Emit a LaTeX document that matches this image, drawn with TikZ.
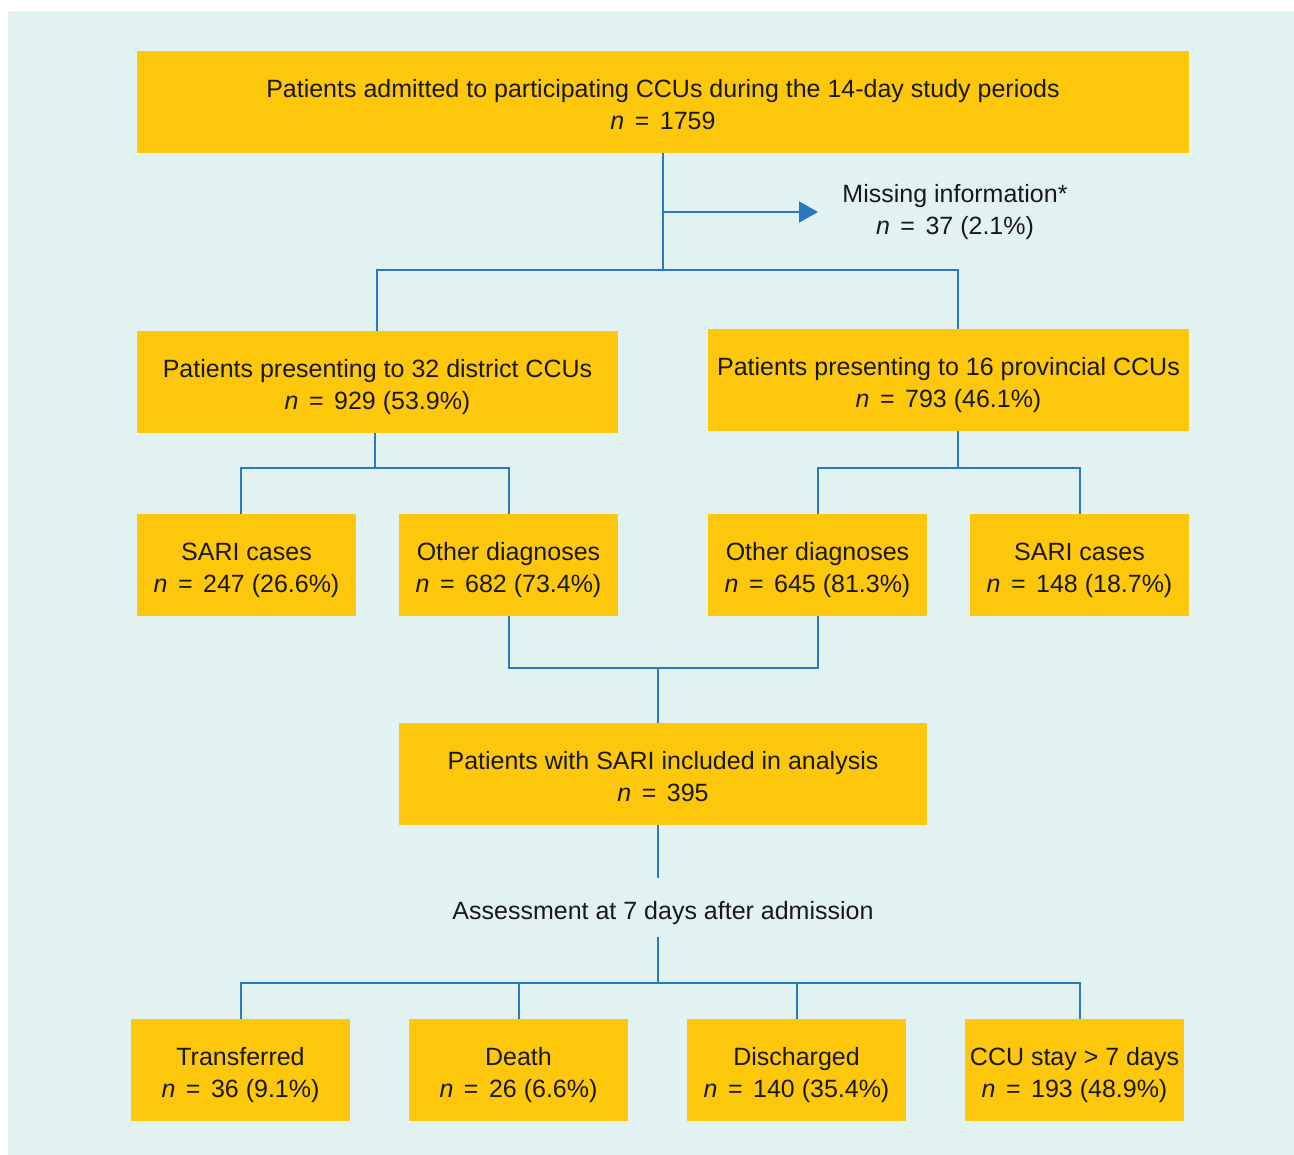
\documentclass[tikz,border=0pt]{standalone}
\usepackage{fontspec}
\setmainfont{Liberation Sans}
\usetikzlibrary{arrows.meta}
\definecolor{bgteal}{RGB}{226,242,241}
\definecolor{boxyellow}{RGB}{253,199,12}
\definecolor{linkblue}{RGB}{41,121,191}
\definecolor{txt}{RGB}{25,25,25}
\newcommand{\ncount}{\textit{n}\hspace{0.42em}=\hspace{0.42em}}
\newcommand{\boxtext}[2]{\raisebox{-5.5pt}[\height][\depth]{\begin{tabular}{@{}c@{}}#1\\#2\end{tabular}}}
\begin{document}
\begin{tikzpicture}[x=1pt,y=-1pt,
	box/.style={fill=boxyellow,text=txt,inner sep=0pt,minimum width=219pt,minimum height=102pt,
		font=\fontsize{25}{32}\selectfont},
	note/.style={text=txt,inner sep=0pt,text depth=0pt,align=center,font=\fontsize{25}{32}\selectfont},
	link/.style={draw=linkblue,line width=2pt}]
	\useasboundingbox (0,0) rectangle (1294,1155);
	\fill[bgteal] (8,11) rectangle (1294,1155);

	% boxes
	\node[box,minimum width=1052pt] (admitted) at (663,102) {\boxtext{Patients admitted to participating CCUs during the 14-day study periods}{\ncount 1759}};
	\node[note] (missing) at (955,209) {Missing information*\\\ncount 37 (2.1\%)};
	\node[box,minimum width=481pt] (district) at (377.5,382) {\boxtext{Patients presenting to 32 district CCUs}{\ncount 929 (53.9\%)}};
	\node[box,minimum width=481pt] (provincial) at (948.5,380) {\boxtext{Patients presenting to 16 provincial CCUs}{\ncount 793 (46.1\%)}};
	\node[box] (sarileft) at (246.5,565) {\boxtext{SARI cases}{\ncount 247 (26.6\%)}};
	\node[box] (otherleft) at (508.5,565) {\boxtext{Other diagnoses}{\ncount 682 (73.4\%)}};
	\node[box] (otherright) at (817.5,565) {\boxtext{Other diagnoses}{\ncount 645 (81.3\%)}};
	\node[box] (sariright) at (1079.5,565) {\boxtext{SARI cases}{\ncount 148 (18.7\%)}};
	\node[box,minimum width=528pt] (analysis) at (663,774) {\boxtext{Patients with SARI included in analysis}{\ncount 395}};
	\node[note] (assess) at (663,910) {Assessment at 7 days after admission};
	\node[box] (transferred) at (240.5,1070) {\boxtext{Transferred}{\ncount 36 (9.1\%)}};
	\node[box] (death) at (518.5,1070) {\boxtext{Death}{\ncount 26 (6.6\%)}};
	\node[box] (discharged) at (796.5,1070) {\boxtext{Discharged}{\ncount 140 (35.4\%)}};
	\node[box] (ccustay) at (1074.5,1070) {\boxtext{CCU stay > 7 days}{\ncount 193 (48.9\%)}};

	% junctions
	\coordinate (split) at (663,270);
	\coordinate (tee) at (663,212);
	\coordinate (distl) at (377,270);
	\coordinate (provr) at (958,270);
	\coordinate (leftfork) at (375,468);
	\coordinate (sarileftin) at (241,468);
	\coordinate (rightfork) at (958,468);
	\coordinate (merge) at (658,668);
	\coordinate (analysisout) at (658,878);
	\coordinate (assessout) at (658,937);
	\coordinate (outfork) at (658,983);
	\coordinate (ccustayin) at (1080,983);

	% connectors
	\draw[link] (admitted.south) -- (split);
	\draw[link,-{Triangle[length=19pt,width=21pt]}] (tee) -- (818,212);
	\draw[link] (distl |- district.north) -- (distl) -- (provr) -- (provr |- provincial.north);
	\draw[link] (leftfork |- district.south) -- (leftfork);
	\draw[link] (sarileftin |- sarileft.north) -- (sarileftin) -| (otherleft.north);
	\draw[link] (rightfork |- provincial.south) -- (rightfork);
	\draw[link] (otherright.north) |- (rightfork) -| (sariright.north);
	\draw[link] (otherleft.south) |- (merge) -| (otherright.south);
	\draw[link] (merge) -- (merge |- analysis.north);
	\draw[link] (analysisout |- analysis.south) -- (analysisout);
	\draw[link] (assessout) -- (outfork);
	\draw[link] (transferred.north) |- (ccustayin) -- (ccustayin |- ccustay.north);
	\draw[link] (death.north) -- (death.north |- outfork);
	\draw[link] (discharged.north) -- (discharged.north |- outfork);
\end{tikzpicture}
\end{document}
